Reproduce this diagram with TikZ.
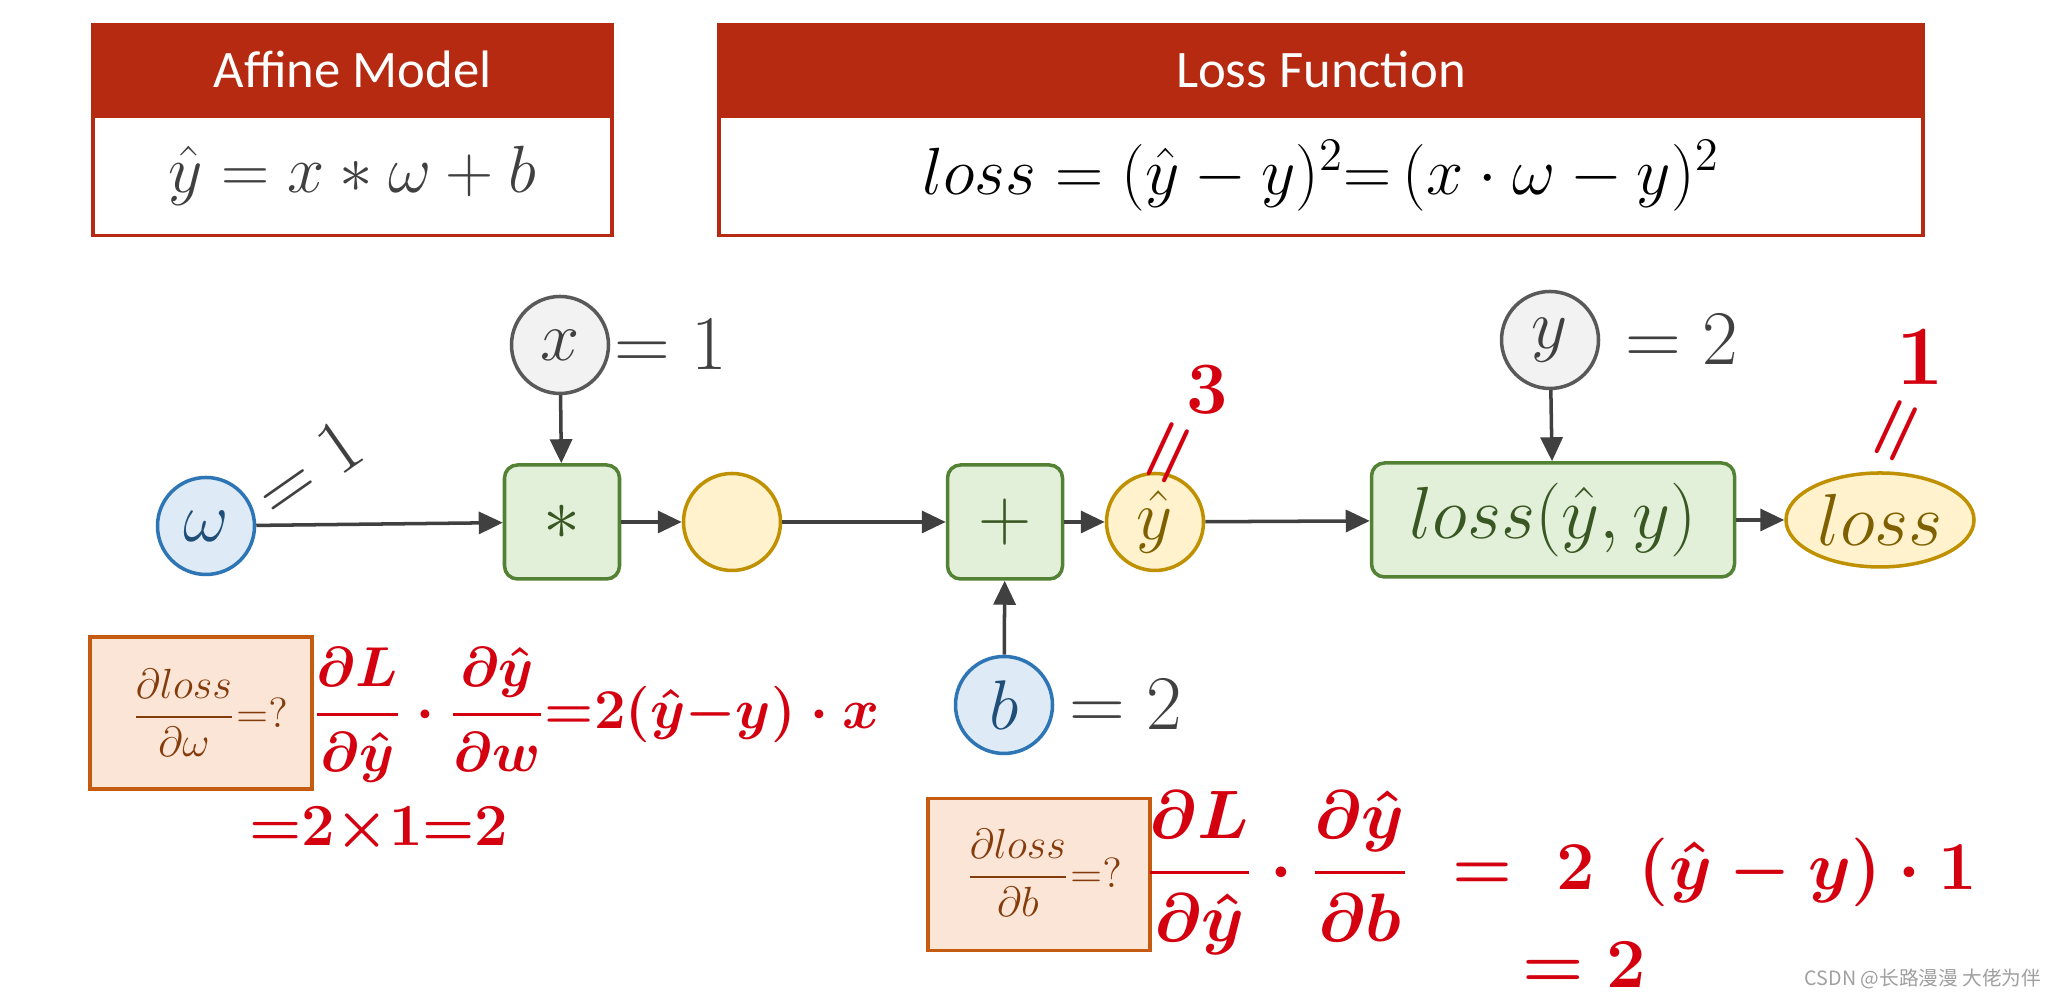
\RequirePackage{fix-cm}
\documentclass[tikz,border=0pt]{standalone}
\usepackage{amsmath}
\usepackage{fontspec}
\setsansfont{Carlito}
\newfontfamily\cjkfont{Noto Sans CJK SC}
\usepackage{tikz}
\usetikzlibrary{positioning}
\usetikzlibrary{arrows.meta}
\usetikzlibrary{shapes.geometric}
\definecolor{headred}{HTML}{B52A11}
\definecolor{textgray}{HTML}{404040}
\definecolor{grayline}{HTML}{595959}
\definecolor{grayfill}{HTML}{F2F2F2}
\definecolor{blueline}{HTML}{2E75B6}
\definecolor{bluefill}{HTML}{DEEBF7}
\definecolor{bluetext}{HTML}{1F4E79}
\definecolor{greenline}{HTML}{548235}
\definecolor{greenfill}{HTML}{E2F0D9}
\definecolor{greentext}{HTML}{385723}
\definecolor{yelline}{HTML}{BF9000}
\definecolor{yelfill}{HTML}{FFF2CC}
\definecolor{yeltext}{HTML}{7F6000}
\definecolor{orline}{HTML}{C55A11}
\definecolor{orfill}{HTML}{FBE5D6}
\definecolor{ortext}{HTML}{843C0C}
\definecolor{inkred}{HTML}{D40010}
\definecolor{markgray}{HTML}{A0A0A0}
\tikzset{headbox/.style={fill=headred, draw=headred, line width=1pt, text=white,
   font=\sffamily\fontsize{15}{18}\selectfont, minimum height=0.88cm, inner sep=0pt},
 bodybox/.style={draw=headred, line width=1pt, fill=white, minimum height=1.19cm,
   inner sep=0pt, font=\fontsize{19}{22}\selectfont},
 varnode/.style={circle, draw=grayline, fill=grayfill, text=textgray, line width=1pt,
   minimum size=0.97cm, inner sep=0pt, font=\fontsize{20}{24}\selectfont},
 paramnode/.style={varnode, draw=blueline, fill=bluefill, text=bluetext},
 valnode/.style={varnode, draw=yelline, fill=yelfill, text=yeltext},
 opnode/.style={rectangle, rounded corners=0.13cm, draw=greenline, fill=greenfill,
   text=greentext, line width=1pt, minimum width=1.15cm, minimum height=1.14cm,
   inner sep=0pt, font=\fontsize{21}{24}\selectfont},
 askbox/.style={draw=orline, fill=orfill, line width=1pt, minimum width=2.22cm,
   minimum height=1.52cm},
 asktext/.style={text=ortext, inner sep=0pt, font=\fontsize{12}{14}\selectfont},
 eqlabel/.style={text=textgray, inner sep=0pt, font=\fontsize{22}{26}\selectfont},
 flow/.style={draw=textgray, line width=1pt, -{Triangle[length=2.4mm,width=2.2mm]}},
 ink/.style={text=inkred, inner sep=0pt, font=\boldmath\fontsize{16}{19}\selectfont},
 }

\begin{document}
\begin{tikzpicture}
        \useasboundingbox (0,0) rectangle (20.58,10);
        \fill[white] (0,0) rectangle (20.58,10);

        \node[headbox, minimum width=5.19cm] (affinehead) at (3.525,9.31) {Affine Model};
        \node[bodybox, minimum width=5.19cm, below=0pt of affinehead] (affinebody)
            {\color{textgray}$\hat{y} = x * \omega + b$};
        \node[headbox, minimum width=12.04cm] (losshead) at (13.21,9.31) {Loss Function};
        \node[bodybox, minimum width=12.04cm, below=0pt of losshead] (lossbody)
            {$loss = (\hat{y} - y)^2{=}\,(x \cdot \omega - y)^2$};

        \node[varnode] (xin) at (5.60,6.55) {$x$};
        \node[eqlabel, right=0.04cm of xin] (xeq) {$=1$};
        \node[paramnode] (w) at (2.06,4.74) {$\omega$};
        \node[eqlabel, rotate=35] (weq) at (3.08,5.31) {$=1$};
        \node[opnode] (mul) at (5.62,4.78) {$*$};
        \node[valnode] (mid) at (7.32,4.78) {};
        \node[opnode] (add) at (10.05,4.78) {$+$};
        \node[valnode] (yhat) at (11.55,4.78) {$\hat{y}$};
        \node[paramnode] (bin) at (10.04,2.95) {$b$};
        \node[eqlabel, right=0.15cm of bin] (beq) {$=2$};
        \node[opnode, minimum width=3.63cm] (lossfn) at (15.53,4.80) {$loss(\hat{y},y)$};
        \node[varnode] (yin) at (15.50,6.60) {$y$};
        \node[eqlabel, right=0.25cm of yin] (yeq) {$=2$};
        \node[valnode, ellipse, minimum width=1.88cm, minimum height=0.94cm,
            font=\fontsize{21}{24}\selectfont] (loss) at (18.80,4.80) {$loss$};

        \draw[flow] (w) -- (mul);
        \draw[flow] (xin) -- (mul);
        \draw[flow] (mul) -- (mid);
        \draw[flow] (mid) -- (add);
        \draw[flow] (add) -- (yhat);
        \draw[flow] (bin) -- (add);
        \draw[flow] (yhat) -- (lossfn);
        \draw[flow] (yin) -- (lossfn);
        \draw[flow] (lossfn) -- (loss);

        \node[askbox] (askw) at (2.01,2.87) {};
        \node[asktext, anchor=west] (askwtext) at (1.31,2.87)
            {$\displaystyle\frac{\partial loss}{\partial \omega}{=}?$};
        \node[askbox] (askb) at (10.39,1.255) {};
        \node[asktext, anchor=west] (askbtext) at (9.65,1.27)
            {$\displaystyle\frac{\partial loss}{\partial b}{=}?$};

        \node[ink, anchor=west] (inkw) at (3.12,2.85)
            {$\dfrac{\partial L}{\partial \hat{y}}\cdot\dfrac{\partial \hat{y}}{\partial w}{=}2(\hat{y}{-}y)\cdot x$};
        \node[ink, anchor=west, font=\boldmath\fontsize{17}{20}\selectfont] (inkw2) at (2.49,1.70)
            {${=}2{\times}1{=}2$};
        \node[ink, anchor=west, font=\boldmath\fontsize{19.5}{22}\selectfont] (inkb) at (11.45,1.27)
            {$\dfrac{\partial L}{\partial \hat{y}}\cdot\dfrac{\partial \hat{y}}{\partial b}\;=\;2\;\;(\hat{y}-y)\cdot 1$};
        \node[ink, anchor=west, font=\boldmath\fontsize{20}{24}\selectfont] (inkb2) at (15.22,0.35) {$=2$};
        \node[ink, rotate=65, font=\boldmath\fontsize{22}{24}\selectfont] (yhateq) at (11.72,5.45) {$=$};
        \node[ink, font=\boldmath\fontsize{21}{24}\selectfont] (yhatval) at (12.07,6.10) {$3$};
        \node[ink, rotate=65, font=\boldmath\fontsize{22}{24}\selectfont] (losseq) at (19.00,5.67) {$=$};
        \node[ink, font=\boldmath\fontsize{24}{28}\selectfont] (lossval) at (19.20,6.43) {$1$};

        \node[anchor=east, inner sep=0pt, text=markgray, font=\cjkfont\fontsize{5.6}{7}\selectfont]
            (mark) at (20.42,0.21) {CSDN @长路漫漫 大佬为伴};
    \end{tikzpicture}
\end{document}
